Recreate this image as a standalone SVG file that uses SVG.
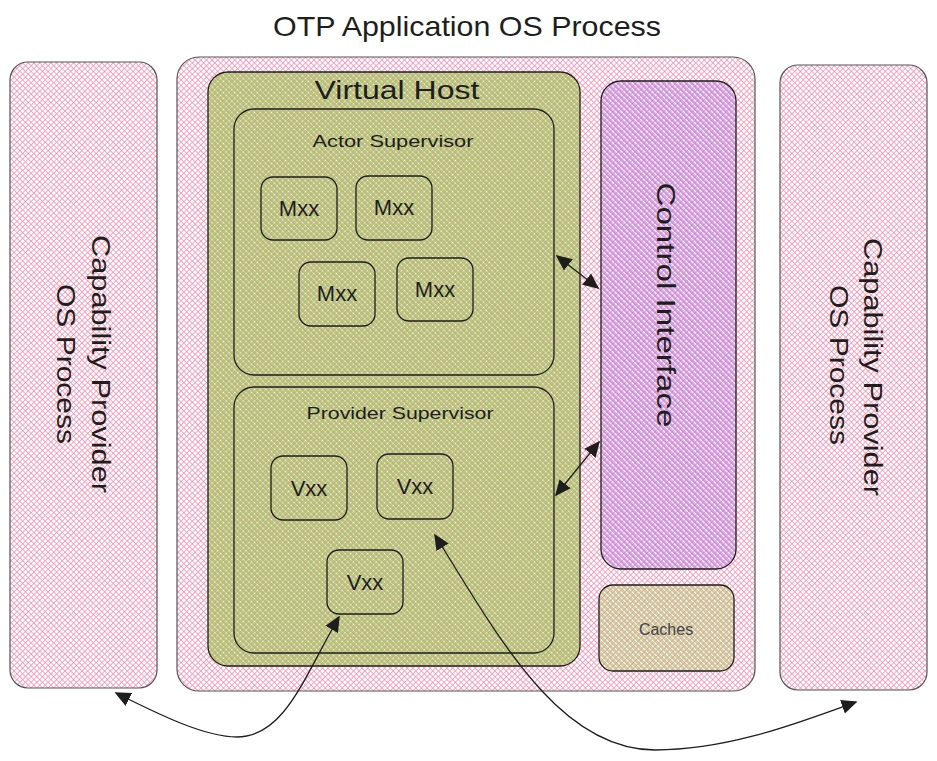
<svg xmlns="http://www.w3.org/2000/svg" width="937" height="761" viewBox="0 0 937 761">
<defs>
  <pattern id="pinkX" width="4" height="4" patternUnits="userSpaceOnUse" patternTransform="rotate(45)">
    <path d="M0,0H4M0,0V4" stroke="#f28aab" stroke-width="1.5" fill="none"/>
  </pattern>
  <pattern id="greenX" width="4" height="4" patternUnits="userSpaceOnUse" patternTransform="rotate(45)">
    <path d="M0,2H4M2,0V4" stroke="#9cc452" stroke-width="1.3" fill="none"/>
  </pattern>
  <pattern id="purpleH" width="4" height="4" patternUnits="userSpaceOnUse" patternTransform="rotate(45)">
    <path d="M0,2H4" stroke="#ad7ceb" stroke-width="1.5" fill="none"/>
  </pattern>
  <pattern id="greenH" width="4" height="4" patternUnits="userSpaceOnUse" patternTransform="rotate(45)">
    <path d="M0,2H4" stroke="#a0c85a" stroke-width="1.4" fill="none"/>
  </pattern>
  <marker id="ah" viewBox="0 0 10 10" refX="9" refY="5" markerWidth="16" markerHeight="16" markerUnits="userSpaceOnUse" orient="auto-start-reverse">
    <path d="M0,0.5 L10,5 L0,9.5 Z" fill="#1e1e1e"/>
  </marker>
</defs>
<style>
  .t { font-family: "Liberation Sans", Arial, sans-serif; fill: #1e1e1e; text-anchor: middle; }
  .box { stroke: #1e1e1e; stroke-width: 1.3; }
  .soft { stroke: #555; stroke-width: 1.2; }
  .conn { fill: none; stroke: #1e1e1e; stroke-width: 1.3; }
  .small { font-size: 22px; }
</style>

<text class="t" x="467" y="36" font-size="28" textLength="388" lengthAdjust="spacingAndGlyphs">OTP Application OS Process</text>

<g id="cp-left">
  <rect class="soft" x="10" y="62" width="147" height="626" rx="18" fill="url(#pinkX)"/>
  <text class="t" font-size="25" transform="translate(92,364) rotate(90)" textLength="258" lengthAdjust="spacingAndGlyphs">Capability Provider</text>
  <text class="t" font-size="25" transform="translate(57,364) rotate(90)" textLength="160" lengthAdjust="spacingAndGlyphs">OS Process</text>
</g>

<g id="cp-right">
  <rect class="soft" x="780" y="65" width="147" height="625" rx="18" fill="url(#pinkX)"/>
  <text class="t" font-size="25" transform="translate(864,367) rotate(90)" textLength="258" lengthAdjust="spacingAndGlyphs">Capability Provider</text>
  <text class="t" font-size="25" transform="translate(830,365) rotate(90)" textLength="160" lengthAdjust="spacingAndGlyphs">OS Process</text>
</g>

<g id="otp">
  <rect class="soft" x="177" y="57" width="578" height="634" rx="22" fill="url(#pinkX)"/>
</g>

<g id="virtual-host">
  <rect class="box" x="208" y="72" width="372" height="594" rx="20" fill="url(#greenX)"/>
  <text class="t" x="397" y="99" font-size="25" textLength="165" lengthAdjust="spacingAndGlyphs">Virtual Host</text>
</g>

<g id="actor-supervisor">
  <rect class="box" x="234" y="109" width="320" height="266" rx="20" fill="none"/>
  <text class="t" x="393" y="147" font-size="17" textLength="161" lengthAdjust="spacingAndGlyphs">Actor Supervisor</text>
</g>
<g id="mxx1">
  <rect class="box" x="261" y="177" width="76" height="63" rx="12" fill="none"/>
  <text class="t small" x="299" y="216">Mxx</text>
</g>
<g id="mxx2">
  <rect class="box" x="356" y="176" width="76" height="64" rx="12" fill="none"/>
  <text class="t small" x="394" y="215">Mxx</text>
</g>
<g id="mxx3">
  <rect class="box" x="299" y="262" width="76" height="64" rx="12" fill="none"/>
  <text class="t small" x="337" y="301">Mxx</text>
</g>
<g id="mxx4">
  <rect class="box" x="397" y="258" width="76" height="63" rx="12" fill="none"/>
  <text class="t small" x="435" y="297">Mxx</text>
</g>

<g id="provider-supervisor">
  <rect class="box" x="234" y="387" width="320" height="266" rx="20" fill="none"/>
  <text class="t" x="400" y="419" font-size="17" textLength="187" lengthAdjust="spacingAndGlyphs">Provider Supervisor</text>
</g>
<g id="vxx1">
  <rect class="box" x="271" y="456" width="76" height="64" rx="12" fill="none"/>
  <text class="t small" x="309" y="496">Vxx</text>
</g>
<g id="vxx2">
  <rect class="box" x="377" y="454" width="76" height="65" rx="12" fill="none"/>
  <text class="t small" x="415" y="494">Vxx</text>
</g>
<g id="vxx3">
  <rect class="box" x="327" y="550" width="76" height="64" rx="12" fill="none"/>
  <text class="t small" x="365" y="590">Vxx</text>
</g>

<g id="control-interface">
  <rect class="box" x="601" y="81" width="135" height="488" rx="20" fill="url(#purpleH)"/>
  <text class="t" font-size="25" transform="translate(657,305) rotate(90)" textLength="245" lengthAdjust="spacingAndGlyphs">Control Interface</text>
</g>

<g id="caches">
  <rect class="box" x="599" y="585" width="135" height="86" rx="14" fill="url(#greenH)"/>
  <text class="t" x="666" y="635" font-size="16" style="fill:#444">Caches</text>
</g>

<g id="connectors">
  <path class="conn" d="M557,256 L598,288" marker-start="url(#ah)" marker-end="url(#ah)"/>
  <path class="conn" d="M556,495 L599,442" marker-start="url(#ah)" marker-end="url(#ah)"/>
  <path class="conn" d="M339,617 C305,675 285,737 237,737 C205,737 160,715 116,693" marker-start="url(#ah)" marker-end="url(#ah)"/>
  <path class="conn" d="M435,535 C500,640 560,750 655,750 C730,750 800,722 856,702" marker-start="url(#ah)" marker-end="url(#ah)"/>
</g>
</svg>
